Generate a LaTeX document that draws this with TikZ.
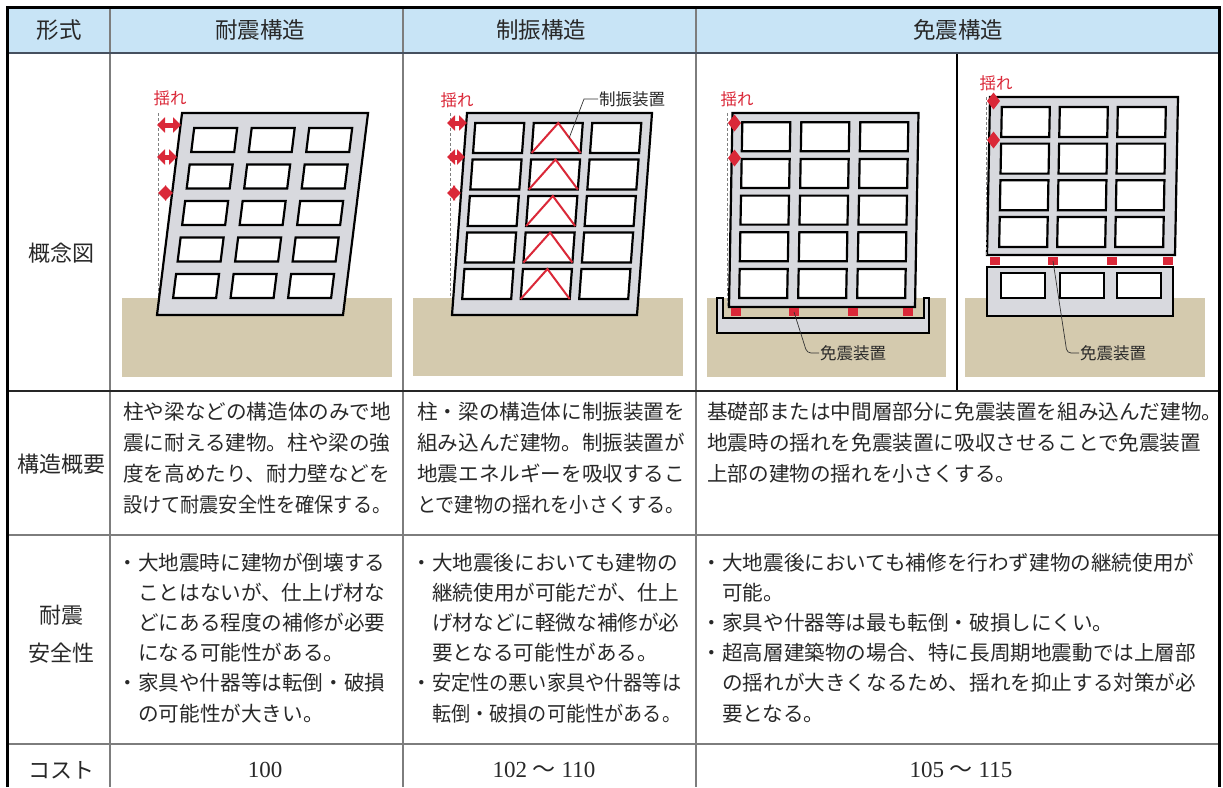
\documentclass[tikz,border=0pt]{standalone}
\usepackage{graphicx}
\usepackage{fontspec}
\setmainfont{Noto Sans CJK JP}
\newfontfamily\numfont{Liberation Serif}
\usetikzlibrary{arrows.meta, positioning}

\definecolor{headblue}{RGB}{200,228,246}
\definecolor{headline}{RGB}{70,80,95}
\definecolor{groundtan}{RGB}{212,202,174}
\definecolor{bldgray}{RGB}{216,217,222}
\definecolor{shakered}{RGB}{218,40,56}
\definecolor{txtgray}{RGB}{40,40,40}
\definecolor{rulegray}{RGB}{125,125,125}

\newcommand{\itm}{\makebox[15pt][l]{\hspace{-6pt}・}}
\newcommand{\ind}{\hspace*{15pt}}
\newcommand{\squeeze}[1]{\scalebox{0.93}[1]{#1}}

\begin{document}
\begin{tikzpicture}[
  x=1pt, y=-1pt,
  text=txtgray,
  head/.style={font=\fontsize{22.5}{27}\selectfont},
  rowlabel/.style={font=\fontsize{22}{38}\selectfont, align=center},
  cell/.style={anchor=north west, inner sep=0pt, align=left, font=\fontsize{20.6}{31.3}\selectfont},
  safecell/.style={cell, font=\fontsize{20.6}{30.2}\selectfont},
  cost/.style={font=\fontsize{23}{27}\numfont},
  tag/.style={font=\fontsize{16.5}{20}\selectfont, inner sep=1pt},
  yure/.style={tag, text=shakered},
  rule/.style={draw=rulegray, line width=1.5pt},
  bldg/.style={fill=bldgray, draw=black, line width=2.2pt},
  pit/.style={fill=bldgray, draw=black, line width=2pt},
  win/.style={fill=white, draw=black, line width=2.2pt},
  damper/.style={draw=shakered, line width=2pt},
  shake/.style={draw=shakered, line width=5pt, {Triangle[width=15pt,length=8pt]}-{Triangle[width=15pt,length=8pt]}},
  plumb/.style={draw=gray, line width=0.8pt, dash pattern=on 3pt off 2pt},
  iso/.style={rectangle, fill=shakered, minimum width=10pt, minimum height=8pt, inner sep=0pt},
  leader/.style={draw=black!80, line width=0.7pt},
]
\useasboundingbox (0,0) rectangle (1223,787);

% Header row
\fill[headblue] (9,9) rectangle (1218,53);
\node[head] (hform) at (59,30) {形式};
\node[head] (htaishin) at (260,30) {耐震構造};
\node[head] (hseishin) at (541,30) {制振構造};
\node[head] (hmenshin) at (958,30) {免震構造};

% Row labels
\node[rowlabel] (lconcept) at (61,253) {概念図};
\node[rowlabel] (loutline) at (61,464) {構造概要};
\node[rowlabel] (lsafety) at (61,634) {耐震\\安全性};
\node[rowlabel] (lcost) at (61,770) {コスト};

% 耐震構造 picture
\fill[groundtan] (122,298) rectangle (392,377);
\draw[plumb] (158,113) -- (158,298);
\begin{scope}[shift={(157,315)}, xslant=0.124]
  \draw[bldg] (0,0) -- (186,0) -- (186,-202) -- (0,-202) -- cycle;
  \foreach \r in {0,...,4}
    \foreach \c in {0,1,2}
      \draw[win] ({14+57.5*\c},{-17-36.5*\r}) -- ++(43,0) -- ++(0,-24) -- ++(-43,0) -- cycle;
\end{scope}
\draw[shake] (157,125) -- (181,125);
\draw[shake] (157,157) -- (177,157);
\draw[shake] (158,193) -- (173,193);
\node[yure] (yure1) at (170,98) {揺れ};

% 制振構造 picture
\fill[groundtan] (413,298) rectangle (683,376);
\draw[plumb] (450,113) -- (450,298);
\begin{scope}[shift={(452,315)}, xslant=0.0743]
  \draw[bldg] (0,0) -- (185,0) -- (185,-202) -- (0,-202) -- cycle;
  \foreach \r in {0,...,4} {
    \foreach \c in {0,1,2}
      \draw[win] ({9+58.5*\c},{-16-36.5*\r}) -- ++(49,0) -- ++(0,-30) -- ++(-49,0) -- cycle;
    \draw[damper] (67.5,{-16-36.5*\r}) -- ++(24.5,-30) -- ++(24.5,30);
  }
  \coordinate (dmptip) at (104,-177);
\end{scope}
\draw[shake] (447,123) -- (467,123);
\draw[shake] (447,157) -- (465,157);
\draw[shake] (447,193) -- (461,193);
\node[yure] (yure2) at (457,100) {揺れ};
\node[tag, anchor=west] (dmplbl) at (598,99) {制振装置};
\draw[leader] (dmplbl.west) -- ++(-14,0) -- (dmptip);

% 免震構造 picture, base isolation
\fill[groundtan] (707,298) rectangle (946,377);
\draw[pit] (717,298) -- (717,333) -- (929,333) -- (929,298) -- (924,298) -- (924,318) -- (723,318) -- (723,298) -- cycle;
\begin{scope}[shift={(729,307)}, xslant=0.018]
  \draw[bldg] (0,0) -- (186,0) -- (186,-194) -- (0,-194) -- cycle;
  \foreach \r in {0,...,4}
    \foreach \c in {0,1,2}
      \draw[win] ({10+59*\c},{-9-36.7*\r}) -- ++(48,0) -- ++(0,-29) -- ++(-48,0) -- cycle;
\end{scope}
\draw[plumb] (727,113) -- (727,307);
\foreach \x [count=\i] in {736,794,853,908}
  \node[iso] (isoa\i) at (\x,312) {};
\node[tag, anchor=west] (menlbla) at (819,353) {免震装置};
\draw[leader, rounded corners=4pt] (isoa2.center) -- (807,353) -- (menlbla.west);
\node[yure] (yure3) at (737,99) {揺れ};

% 免震構造 picture, mid-storey isolation
\fill[groundtan] (965,298) rectangle (1205,377);
\draw[bldg] (987,267) -- (1173,267) -- (1173,316) -- (987,316) -- cycle;
\foreach \x in {1001,1060,1117}
  \draw[win] (\x,273) -- ++(44,0) -- ++(0,25) -- ++(-44,0) -- cycle;
\begin{scope}[shift={(987,255)}, xslant=0.019]
  \draw[bldg] (0,0) -- (188,0) -- (188,-158) -- (0,-158) -- cycle;
  \foreach \r in {0,...,3}
    \foreach \c in {0,1,2}
      \draw[win] ({12+58*\c},{-8-36.7*\r}) -- ++(48,0) -- ++(0,-30) -- ++(-48,0) -- cycle;
\end{scope}
\draw[plumb] (986,97) -- (986,255);
\foreach \x [count=\i] in {995,1053,1112,1168}
  \node[iso] (isob\i) at (\x,261) {};
\node[tag, anchor=west] (menlblb) at (1079,353) {免震装置};
\draw[leader, rounded corners=4pt] (isob2.center) -- (1067,353) -- (menlblb.west);
\node[yure] (yure4) at (996,83) {揺れ};

% shaking marks on the isolated buildings
\foreach \px/\py in {734.5/123, 734.5/158, 993.5/101, 993.5/140}
  \fill[shakered] ({\px-6.5},\py) -- (\px,{\py-8.5}) -- ({\px+6.5},\py) -- (\px,{\py+8.5}) -- cycle;

% 構造概要 row
\node[cell] (otaishin) at (123,401.5) {柱や梁などの構造体のみで地\\震に耐える建物。柱や梁の強\\度を高めたり、耐力壁などを\\\squeeze{設けて耐震安全性を確保する。}};
\node[cell] (oseishin) at (417,401.5) {柱・梁の構造体に制振装置を\\組み込んだ建物。制振装置が\\地震エネルギーを吸収するこ\\\squeeze{とで建物の揺れを小さくする。}};
\node[cell] (omenshin) at (707,401.5) {基礎部または中間層部分に免震装置を組み込んだ建物。\\地震時の揺れを免震装置に吸収させることで免震装置\\上部の建物の揺れを小さくする。};

% 耐震安全性 row
\node[safecell] (staishin) at (123,552.5) {\itm 大地震時に建物が倒壊する\\\ind ことはないが、仕上げ材な\\\ind どにある程度の補修が必要\\\ind になる可能性がある。\\\itm 家具や什器等は転倒・破損\\\ind の可能性が大きい。};
\node[safecell] (sseishin) at (417,552.5) {\itm 大地震後においても建物の\\\ind 継続使用が可能だが、仕上\\\ind げ材などに軽微な補修が必\\\ind 要となる可能性がある。\\\itm \squeeze{安定性の悪い家具や什器等は}\\\ind \squeeze{転倒・破損の可能性がある。}};
\node[safecell] (smenshin) at (707,552.5) {\itm 大地震後においても補修を行わず建物の継続使用が\\\ind 可能。\\\itm 家具や什器等は最も転倒・破損しにくい。\\\itm 超高層建築物の場合、特に長周期地震動では上層部\\\ind の揺れが大きくなるため、揺れを抑止する対策が必\\\ind 要となる。};

% コスト row
\node[cost] (ctaishin) at (265,770) {100};
\node[cost] (cseishin) at (544,770) {102 {\rmfamily ～} 110};
\node[cost] (cmenshin) at (961,770) {105 {\rmfamily ～} 115};

% Table rules
\draw[rule] (110,9) -- (110,787);
\draw[rule] (403,9) -- (403,787);
\draw[rule] (696,9) -- (696,787);
\draw[draw=black, line width=1.2pt] (957,53) -- (957,391);
\draw[draw=headline, line width=1.5pt] (9,53) -- (1218,53);
\draw[draw=black!85, line width=1.5pt] (9,391) -- (1218,391);
\draw[rule] (9,535) -- (1218,535);
\draw[rule] (9,744) -- (1218,744);

% Outer frame
\draw[line width=3pt] (7.5,787) -- (7.5,7.5) -- (1219.5,7.5) -- (1219.5,787);
\end{tikzpicture}
\end{document}
